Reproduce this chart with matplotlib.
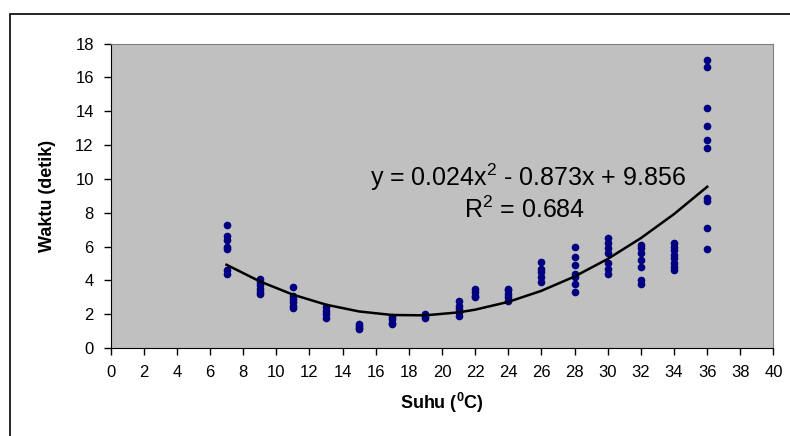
import matplotlib.pyplot as plt
import numpy as np
from matplotlib.patches import Rectangle

plt.rcParams['font.family'] = ['Liberation Sans', 'DejaVu Sans']
plt.rcParams['mathtext.fontset'] = 'custom'
plt.rcParams['mathtext.rm'] = 'Liberation Sans'
plt.rcParams['mathtext.bf'] = 'Liberation Sans:bold'

# data: suhu (x) and waktu (y) per group
suhu = [7, 9, 11, 13, 15, 17, 19, 21, 22, 24, 26, 28, 30, 32, 34, 36]
waktu = [
    [7.3, 6.6, 6.4, 6.0, 5.85, 4.6, 4.4],
    [4.1, 3.9, 3.7, 3.5, 3.3, 3.2],
    [3.6, 3.1, 2.9, 2.7, 2.5, 2.35],
    [2.4, 2.2, 2.0, 1.8],
    [1.4, 1.3, 1.2, 1.1],
    [1.85, 1.7, 1.5, 1.4],
    [2.0, 1.9, 1.8],
    [2.8, 2.5, 2.3, 2.1, 1.9],
    [3.5, 3.3, 3.1, 3.0],
    [3.5, 3.4, 3.2, 3.0, 2.8],
    [5.1, 4.7, 4.5, 4.2, 3.9],
    [6.0, 5.4, 4.9, 4.4, 4.2, 3.8, 3.3],
    [6.5, 6.2, 5.9, 5.6, 5.0, 4.7, 4.4],
    [6.1, 5.9, 5.6, 5.2, 4.8, 4.0, 3.8],
    [6.2, 6.0, 5.8, 5.5, 5.3, 5.0, 4.8, 4.6],
    [17.0, 16.6, 14.2, 13.1, 12.3, 11.8, 8.85, 8.7, 7.1, 5.85],
]
# polynomial trendline coefficients (from the chart's equation)
koef = [0.024, -0.873, 9.856]
r2 = 0.684

fig = plt.figure(figsize=(7.9, 4.36), dpi=100)
ax = fig.add_axes([0.1399, 0.2018, 0.8392, 0.6984])
ax.set_facecolor('#C0C0C0')

# outer chart border (only left and top visible)
fig.patches.append(Rectangle((10 / 790, -0.1), 1.2, (436 - 14) / 436 + 0.1,
                             transform=fig.transFigure, fill=False,
                             edgecolor='black', linewidth=1.2))

xs, ys = [], []
for s, w in zip(suhu, waktu):
    xs += [s] * len(w)
    ys += w
ax.plot(xs, ys, 'o', color='#000080', markersize=4.5, zorder=3)

# trendline drawn as a polyline through the fitted values at each x group
xt = np.array(suhu, dtype=float)
ax.plot(xt, np.polyval(koef, xt), color='black', linewidth=1.8, zorder=4)

ax.text(25.2, 10.1,
        'y = %.3fx$^2$ - %.3fx + %.3f' % (koef[0], -koef[1], koef[2]),
        fontsize=18, ha='center', va='center')
ax.text(25.0, 8.15, 'R$^2$ = %.3f' % r2, fontsize=18, ha='center', va='center')

ax.set_xlim(0, 40)
ax.set_ylim(0, 18)
ax.set_xticks(range(0, 41, 2))
ax.set_yticks(range(0, 19, 2))
ax.tick_params(direction='out', length=5, width=1, labelsize=12, pad=7)
for side in ['top', 'right']:
    ax.spines[side].set_color('#808080')
for side in ['left', 'bottom']:
    ax.spines[side].set_color('black')

ax.set_xlabel(r'Suhu ($\mathbf{^0}$C)', fontsize=13, fontweight='bold', labelpad=8)
ax.set_ylabel('Waktu (detik)', fontsize=13, fontweight='bold', labelpad=14)

fig.savefig('out.png', dpi=100)
